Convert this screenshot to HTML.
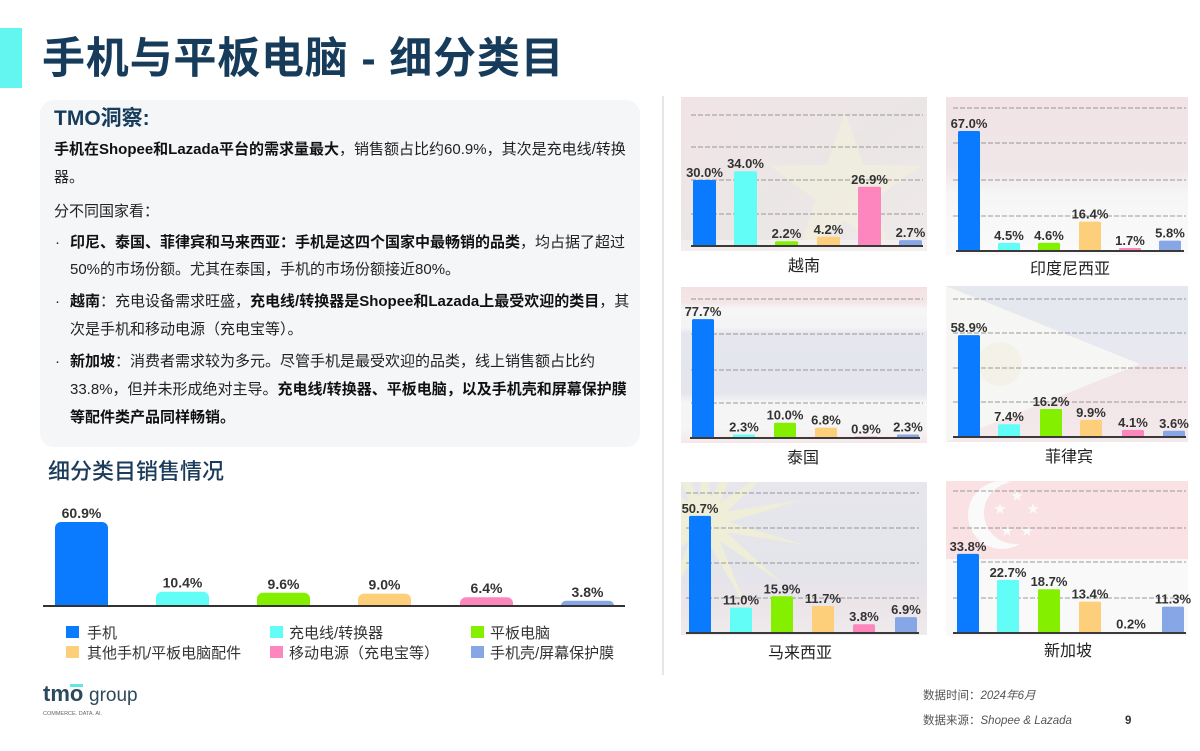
<!DOCTYPE html>
<html>
<head>
<meta charset="utf-8">
<style>
  html,body{margin:0;padding:0;background:#fff;}
  body{width:1200px;height:751px;position:relative;overflow:hidden;
       font-family:"Liberation Sans","Noto Sans CJK SC",sans-serif;color:#1f1f1f;}
  .abs{position:absolute;white-space:nowrap;}
  .accent{left:0;top:28px;width:22px;height:60px;background:#63f6f0;}
  .title{left:42px;top:34px;font-size:43px;line-height:50px;font-weight:bold;color:#173c5b;letter-spacing:0.8px;}
  .box{left:40px;top:100px;width:600px;height:347px;background:#f4f6f8;border-radius:14px;}
  .tmo{left:54px;top:106px;font-size:21px;line-height:26px;font-weight:bold;color:#173c5b;}
  .ln{font-size:15px;line-height:20px;color:#222;}
  .ln b{font-weight:bold;color:#111;}
  .sub{left:48px;top:459px;font-size:22px;line-height:26px;font-weight:500;color:#1b3b5a;}
</style>
</head>
<body>
<div class="abs accent"></div>
<div class="abs title">手机与平板电脑 - 细分类目</div>
<div class="abs box"></div>
<div class="abs tmo">TMO洞察:</div>

<div class="abs ln" style="left:54px;top:140px;"><b>手机在Shopee和Lazada平台的需求量最大</b>，销售额占比约60.9%，其次是充电线/转换</div>
<div class="abs ln" style="left:54px;top:168px;">器。</div>
<div class="abs ln" style="left:54px;top:202px;">分不同国家看：</div>

<div class="abs ln" style="left:55px;top:233px;">·</div>
<div class="abs ln" style="left:70px;top:233px;"><b>印尼、泰国、菲律宾和马来西亚：手机是这四个国家中最畅销的品类</b>，均占据了超过</div>
<div class="abs ln" style="left:70px;top:260px;">50%的市场份额。尤其在泰国，手机的市场份额接近80%。</div>

<div class="abs ln" style="left:55px;top:292px;">·</div>
<div class="abs ln" style="left:70px;top:292px;"><b>越南</b>：充电设备需求旺盛，<b>充电线/转换器是Shopee和Lazada上最受欢迎的类目</b>，其</div>
<div class="abs ln" style="left:70px;top:320px;">次是手机和移动电源（充电宝等）。</div>

<div class="abs ln" style="left:55px;top:352px;">·</div>
<div class="abs ln" style="left:70px;top:352px;"><b>新加坡</b>：消费者需求较为多元。尽管手机是最受欢迎的品类，线上销售额占比约</div>
<div class="abs ln" style="left:70px;top:380px;">33.8%，但并未形成绝对主导。<b>充电线/转换器、平板电脑，以及手机壳和屏幕保护膜</b></div>
<div class="abs ln" style="left:70px;top:408px;"><b>等配件类产品同样畅销。</b></div>

<div class="abs sub">细分类目销售情况</div>

<svg class="abs" style="left:0;top:0;" width="1200" height="751" viewBox="0 0 1200 751" xmlns="http://www.w3.org/2000/svg">
  <defs>
    <clipPath id="leftclip"><rect x="0" y="0" width="660" height="606"/></clipPath>
    <clipPath id="cVN"><rect x="681" y="97" width="246" height="154"/></clipPath>
    <clipPath id="cID"><rect x="946" y="97" width="242" height="158"/></clipPath>
    <clipPath id="cTH"><rect x="681" y="287" width="246" height="156"/></clipPath>
    <clipPath id="cPH"><rect x="946" y="286" width="242" height="156"/></clipPath>
    <clipPath id="cMY"><rect x="681" y="482" width="246" height="153"/></clipPath>
    <clipPath id="cSG"><rect x="946" y="481" width="242" height="155"/></clipPath>
    <linearGradient id="gID" x1="0" y1="0" x2="0" y2="1">
      <stop offset="0" stop-color="#f2e3e6"/>
      <stop offset="0.45" stop-color="#efe6e8"/>
      <stop offset="0.62" stop-color="#f6f6f6"/>
      <stop offset="1" stop-color="#fafafa"/>
    </linearGradient>
    <linearGradient id="gVN" x1="0" y1="0" x2="1" y2="1">
      <stop offset="0" stop-color="#f2e4e6"/>
      <stop offset="0.5" stop-color="#ebe6e6"/>
      <stop offset="1" stop-color="#efeaea"/>
    </linearGradient>
    <linearGradient id="gTH" x1="0" y1="0" x2="0" y2="1">
      <stop offset="0" stop-color="#f4e2e3"/>
      <stop offset="0.1" stop-color="#f4e6e7"/>
      <stop offset="0.14" stop-color="#f6f6f7"/>
      <stop offset="0.26" stop-color="#f4f4f6"/>
      <stop offset="0.3" stop-color="#e5e6ee"/>
      <stop offset="0.68" stop-color="#e4e5ed"/>
      <stop offset="0.74" stop-color="#f5f5f6"/>
      <stop offset="0.9" stop-color="#f6f5f5"/>
      <stop offset="1" stop-color="#f5e8ea"/>
    </linearGradient>
    <linearGradient id="gPH" x1="0" y1="0" x2="0" y2="1">
      <stop offset="0" stop-color="#e6e8f0"/>
      <stop offset="0.48" stop-color="#e7e8f0"/>
      <stop offset="0.52" stop-color="#f2e5e8"/>
      <stop offset="1" stop-color="#f3e8ea"/>
    </linearGradient>
    <linearGradient id="gMY" x1="0" y1="0" x2="0" y2="1">
      <stop offset="0" stop-color="#e6e6ec"/>
      <stop offset="0.6" stop-color="#e4e4eb"/>
      <stop offset="0.8" stop-color="#ebe5e9"/>
      <stop offset="1" stop-color="#efeaec"/>
    </linearGradient>
  </defs>

  <!-- separator -->
  <line x1="663" y1="96" x2="663" y2="675" stroke="#dedede" stroke-width="1.5"/>

  <!-- ============ LEFT CHART ============ -->
  <g clip-path="url(#leftclip)">
    <rect x="55" y="522" width="53" height="95" rx="6" fill="#0a7bff"/>
    <rect x="156" y="591.7" width="53" height="25" rx="6" fill="#62fdf6"/>
    <rect x="257" y="592.8" width="53" height="25" rx="6" fill="#84f000"/>
    <rect x="358" y="593.6" width="53" height="25" rx="6" fill="#fdcf7a"/>
    <rect x="460" y="597.2" width="53" height="25" rx="6" fill="#fc86bd"/>
    <rect x="561" y="600.8" width="53" height="25" rx="5" fill="#87a6e6"/>
  </g>
  <line x1="43" y1="606" x2="625" y2="606" stroke="#333" stroke-width="2"/>
  <g font-family="'Liberation Sans','Noto Sans CJK SC',sans-serif" font-size="14" font-weight="bold" fill="#333" text-anchor="middle">
    <text x="81.5" y="518">60.9%</text>
    <text x="182.5" y="587.7">10.4%</text>
    <text x="283.5" y="588.8">9.6%</text>
    <text x="384.5" y="589.6">9.0%</text>
    <text x="486.5" y="593.2">6.4%</text>
    <text x="587.5" y="596.8">3.8%</text>
  </g>
  <!-- legend -->
  <rect x="66" y="626" width="13" height="12" fill="#0a7bff"/>
  <rect x="270" y="626" width="13" height="12" fill="#62fdf6"/>
  <rect x="471" y="626" width="13" height="12" fill="#84f000"/>
  <rect x="66" y="646" width="13" height="12" fill="#fdcf7a"/>
  <rect x="270" y="646" width="13" height="12" fill="#fc86bd"/>
  <rect x="471" y="646" width="13" height="12" fill="#87a6e6"/>
  <g font-family="'Liberation Sans','Noto Sans CJK SC',sans-serif" font-size="15" fill="#333">
    <text x="87" y="638">手机</text>
    <text x="289" y="638">充电线/转换器</text>
    <text x="490" y="638">平板电脑</text>
    <text x="87" y="658">其他手机/平板电脑配件</text>
    <text x="289" y="658">移动电源（充电宝等）</text>
    <text x="490" y="658">手机壳/屏幕保护膜</text>
  </g>

  <!-- ============ VIETNAM ============ -->
  <g clip-path="url(#cVN)">
    <rect x="681" y="97" width="246" height="154" fill="url(#gVN)"/>
    <polygon points="845,110 863.2,164.9 921.1,165.3 874.5,199.6 892,254.7 845,221 798,254.7 815.5,199.6 768.9,165.3 826.8,164.9" fill="#f3f1da" opacity="0.55"/>
    <rect x="681" y="240" width="246" height="11" fill="#f6f4f4" opacity="0.6"/>
  </g>
  <!-- ============ INDONESIA ============ -->
  <g clip-path="url(#cID)">
    <rect x="946" y="97" width="242" height="158" fill="url(#gID)"/>
  </g>
  <!-- ============ THAILAND ============ -->
  <g clip-path="url(#cTH)">
    <rect x="681" y="287" width="246" height="156" fill="url(#gTH)"/>
  </g>
  <!-- ============ PHILIPPINES ============ -->
  <g clip-path="url(#cPH)">
    <rect x="946" y="286" width="242" height="156" fill="url(#gPH)"/>
    <polygon points="946,286 1140,364 946,442" fill="#f6f6f4"/>
    <circle cx="1000" cy="364" r="22" fill="#f3f1e2" opacity="0.7"/>
  </g>
  <!-- ============ MALAYSIA ============ -->
  <g clip-path="url(#cMY)">
    <rect x="681" y="482" width="246" height="153" fill="url(#gMY)"/>
    <g transform="translate(705,522)" fill="#efeed8">
      <polygon points="0,-100 7,0 -7,0"/>
      <polygon points="0,-100 7,0 -7,0" transform="rotate(25.7)"/>
      <polygon points="0,-100 7,0 -7,0" transform="rotate(51.4)"/>
      <polygon points="0,-100 7,0 -7,0" transform="rotate(77.1)"/>
      <polygon points="0,-100 7,0 -7,0" transform="rotate(102.9)"/>
      <polygon points="0,-100 7,0 -7,0" transform="rotate(128.6)"/>
      <polygon points="0,-100 7,0 -7,0" transform="rotate(154.3)"/>
      <polygon points="0,-100 7,0 -7,0" transform="rotate(180)"/>
      <polygon points="0,-100 7,0 -7,0" transform="rotate(205.7)"/>
      <polygon points="0,-100 7,0 -7,0" transform="rotate(231.4)"/>
      <polygon points="0,-100 7,0 -7,0" transform="rotate(257.1)"/>
      <polygon points="0,-100 7,0 -7,0" transform="rotate(282.9)"/>
      <polygon points="0,-100 7,0 -7,0" transform="rotate(308.6)"/>
      <polygon points="0,-100 7,0 -7,0" transform="rotate(334.3)"/>
      <circle cx="0" cy="0" r="22"/>
    </g>
  </g>
  <!-- ============ SINGAPORE ============ -->
  <g clip-path="url(#cSG)">
    <rect x="946" y="481" width="242" height="155" fill="#f9f9f9"/>
    <rect x="946" y="481" width="242" height="78" fill="#f9e1e4"/>
    <circle cx="1002" cy="515" r="34" fill="#fbfafa"/>
    <circle cx="1015" cy="513" r="31" fill="#f9e1e4"/>
    <g fill="#fbfafa">
      <polygon points="0,-1 0.2245,-0.309 0.951,-0.309 0.363,0.118 0.588,0.809 0,0.382 -0.588,0.809 -0.363,0.118 -0.951,-0.309 -0.2245,-0.309" transform="translate(1017,496) scale(6)"/>
      <polygon points="0,-1 0.2245,-0.309 0.951,-0.309 0.363,0.118 0.588,0.809 0,0.382 -0.588,0.809 -0.363,0.118 -0.951,-0.309 -0.2245,-0.309" transform="translate(1000,509) scale(6)"/>
      <polygon points="0,-1 0.2245,-0.309 0.951,-0.309 0.363,0.118 0.588,0.809 0,0.382 -0.588,0.809 -0.363,0.118 -0.951,-0.309 -0.2245,-0.309" transform="translate(1033,509) scale(6)"/>
      <polygon points="0,-1 0.2245,-0.309 0.951,-0.309 0.363,0.118 0.588,0.809 0,0.382 -0.588,0.809 -0.363,0.118 -0.951,-0.309 -0.2245,-0.309" transform="translate(1007,531) scale(6)"/>
      <polygon points="0,-1 0.2245,-0.309 0.951,-0.309 0.363,0.118 0.588,0.809 0,0.382 -0.588,0.809 -0.363,0.118 -0.951,-0.309 -0.2245,-0.309" transform="translate(1027,531) scale(6)"/>
    </g>
  </g>

  <!-- gridlines -->
  <g stroke="#8a8a8a" stroke-width="1" stroke-dasharray="5 2" opacity="0.85">
    <line x1="691" y1="115" x2="923" y2="115"/><line x1="691" y1="147" x2="923" y2="147"/>
    <line x1="691" y1="180" x2="923" y2="180"/><line x1="691" y1="214" x2="923" y2="214"/>
    <line x1="953" y1="108" x2="1186" y2="108"/><line x1="953" y1="143" x2="1186" y2="143"/>
    <line x1="953" y1="180" x2="1186" y2="180"/><line x1="953" y1="216" x2="1186" y2="216"/>
    <line x1="691" y1="299" x2="923" y2="299"/><line x1="691" y1="334" x2="923" y2="334"/>
    <line x1="691" y1="370" x2="923" y2="370"/><line x1="691" y1="403" x2="923" y2="403"/>
    <line x1="953" y1="299" x2="1186" y2="299"/><line x1="953" y1="333" x2="1186" y2="333"/>
    <line x1="953" y1="368" x2="1186" y2="368"/><line x1="953" y1="402" x2="1186" y2="402"/>
    <line x1="686" y1="493" x2="919" y2="493"/><line x1="686" y1="528" x2="919" y2="528"/>
    <line x1="686" y1="563" x2="919" y2="563"/><line x1="686" y1="598" x2="919" y2="598"/>
    <line x1="953" y1="491" x2="1186" y2="491"/><line x1="953" y1="528" x2="1186" y2="528"/>
    <line x1="953" y1="562" x2="1186" y2="562"/><line x1="953" y1="598" x2="1186" y2="598"/>
  </g>

  <!-- bars: Vietnam -->
  <rect x="693" y="180" width="23" height="66" rx="1.5" fill="#0a7bff"/>
  <rect x="734" y="171.2" width="23" height="74.8" rx="1.5" fill="#62fdf6"/>
  <rect x="775" y="241.2" width="23" height="4.8" rx="1.5" fill="#84f000"/>
  <rect x="817" y="236.8" width="23" height="9.2" rx="1.5" fill="#fdcf7a"/>
  <rect x="858" y="186.8" width="23" height="59.2" rx="1.5" fill="#fc86bd"/>
  <rect x="899" y="240.1" width="23" height="5.9" rx="1.5" fill="#87a6e6"/>
  <!-- Indonesia -->
  <rect x="958" y="131" width="22" height="120" rx="1.5" fill="#0a7bff"/>
  <rect x="998" y="242.9" width="22" height="8.1" rx="1.5" fill="#62fdf6"/>
  <rect x="1038" y="242.8" width="22" height="8.2" rx="1.5" fill="#84f000"/>
  <rect x="1079" y="221.6" width="22" height="29.4" rx="1.5" fill="#fdcf7a"/>
  <rect x="1119" y="248" width="22" height="3" rx="1" fill="#fc86bd"/>
  <rect x="1159" y="240.6" width="22" height="10.4" rx="1.5" fill="#87a6e6"/>
  <!-- Thailand -->
  <rect x="692" y="319.1" width="22" height="118.9" rx="1.5" fill="#0a7bff"/>
  <rect x="733" y="434.5" width="22" height="3.5" rx="1" fill="#62fdf6"/>
  <rect x="774" y="422.7" width="22" height="15.3" rx="1.5" fill="#84f000"/>
  <rect x="815" y="427.6" width="22" height="10.4" rx="1.5" fill="#fdcf7a"/>
  <rect x="855" y="436.6" width="22" height="1.4" fill="#fc86bd"/>
  <rect x="897" y="434.5" width="22" height="3.5" rx="1" fill="#87a6e6"/>
  <!-- Philippines -->
  <rect x="958" y="335.1" width="22" height="101.9" rx="1.5" fill="#0a7bff"/>
  <rect x="998" y="424.2" width="22" height="12.8" rx="1.5" fill="#62fdf6"/>
  <rect x="1040" y="409" width="22" height="28" rx="1.5" fill="#84f000"/>
  <rect x="1080" y="419.9" width="22" height="17.1" rx="1.5" fill="#fdcf7a"/>
  <rect x="1122" y="429.9" width="22" height="7.1" rx="1.5" fill="#fc86bd"/>
  <rect x="1163" y="430.8" width="22" height="6.2" rx="1.5" fill="#87a6e6"/>
  <!-- Malaysia -->
  <rect x="689" y="515.9" width="22" height="117.1" rx="1.5" fill="#0a7bff"/>
  <rect x="730" y="607.6" width="22" height="25.4" rx="1.5" fill="#62fdf6"/>
  <rect x="771" y="596.3" width="22" height="36.7" rx="1.5" fill="#84f000"/>
  <rect x="812" y="606" width="22" height="27" rx="1.5" fill="#fdcf7a"/>
  <rect x="853" y="624.2" width="22" height="8.8" rx="1.5" fill="#fc86bd"/>
  <rect x="895" y="617.1" width="22" height="15.9" rx="1.5" fill="#87a6e6"/>
  <!-- Singapore -->
  <rect x="957" y="553.9" width="22" height="79.1" rx="1.5" fill="#0a7bff"/>
  <rect x="997" y="579.9" width="22" height="53.1" rx="1.5" fill="#62fdf6"/>
  <rect x="1038" y="589.2" width="22" height="43.8" rx="1.5" fill="#84f000"/>
  <rect x="1079" y="601.6" width="22" height="31.4" rx="1.5" fill="#fdcf7a"/>
  <rect x="1120" y="632.5" width="22" height="0.5" fill="#fc86bd"/>
  <rect x="1162" y="606.6" width="22" height="26.4" rx="1.5" fill="#87a6e6"/>

  <!-- baselines -->
  <g stroke="#3a3a3a" stroke-width="2">
    <line x1="691" y1="246" x2="923" y2="246"/>
    <line x1="956" y1="251" x2="1184" y2="251"/>
    <line x1="690" y1="438" x2="920" y2="438"/>
    <line x1="953" y1="437" x2="1186" y2="437"/>
    <line x1="686" y1="633" x2="919" y2="633"/>
    <line x1="953" y1="633" x2="1186" y2="633"/>
  </g>

  <!-- value labels -->
  <g font-family="'Liberation Sans','Noto Sans CJK SC',sans-serif" font-size="13" font-weight="bold" fill="#333" text-anchor="middle">
    <text x="704.5" y="177">30.0%</text>
    <text x="745.5" y="168.2">34.0%</text>
    <text x="786.5" y="238.2">2.2%</text>
    <text x="828.5" y="233.8">4.2%</text>
    <text x="869.5" y="183.8">26.9%</text>
    <text x="910.5" y="237.1">2.7%</text>

    <text x="969" y="128">67.0%</text>
    <text x="1009" y="239.9">4.5%</text>
    <text x="1049" y="239.8">4.6%</text>
    <text x="1090" y="218.6">16.4%</text>
    <text x="1130" y="245">1.7%</text>
    <text x="1170" y="237.6">5.8%</text>

    <text x="703" y="316.1">77.7%</text>
    <text x="744" y="431.5">2.3%</text>
    <text x="785" y="419.7">10.0%</text>
    <text x="826" y="424.6">6.8%</text>
    <text x="866" y="433.6">0.9%</text>
    <text x="908" y="431.5">2.3%</text>

    <text x="969" y="332.1">58.9%</text>
    <text x="1009" y="421.2">7.4%</text>
    <text x="1051" y="406">16.2%</text>
    <text x="1091" y="416.9">9.9%</text>
    <text x="1133" y="426.9">4.1%</text>
    <text x="1174" y="427.8">3.6%</text>

    <text x="700" y="512.9">50.7%</text>
    <text x="741" y="604.6">11.0%</text>
    <text x="782" y="593.3">15.9%</text>
    <text x="823" y="603">11.7%</text>
    <text x="864" y="621.2">3.8%</text>
    <text x="906" y="614.1">6.9%</text>

    <text x="968" y="550.9">33.8%</text>
    <text x="1008" y="576.9">22.7%</text>
    <text x="1049" y="586.2">18.7%</text>
    <text x="1090" y="598.6">13.4%</text>
    <text x="1131" y="628.5">0.2%</text>
    <text x="1173" y="603.6">11.3%</text>
  </g>

  <!-- panel names -->
  <g font-family="'Liberation Sans','Noto Sans CJK SC',sans-serif" font-size="16" fill="#222" text-anchor="middle">
    <text x="804" y="271">越南</text>
    <text x="1070" y="274">印度尼西亚</text>
    <text x="803" y="463">泰国</text>
    <text x="1069" y="462">菲律宾</text>
    <text x="800" y="658">马来西亚</text>
    <text x="1068" y="656">新加坡</text>
  </g>

  <!-- logo -->
  <text x="43" y="701" font-family="'Liberation Sans',sans-serif" font-size="22" font-weight="bold" fill="#2c4a5c">tmo</text>
  <rect x="70" y="684" width="13" height="3" fill="#62e6e0"/>
  <text x="89" y="701" font-family="'Liberation Sans',sans-serif" font-size="19" fill="#2c4a5c">group</text>
  <text x="43" y="715" font-family="'Liberation Sans',sans-serif" font-size="5.5" fill="#666">COMMERCE. DATA. AI.</text>

  <!-- footer -->
  <g font-family="'Liberation Sans','Noto Sans CJK SC',sans-serif" font-size="11.5" fill="#555">
    <text x="923" y="699">数据时间：<tspan font-style="italic">2024年6月</tspan></text>
    <text x="923" y="724">数据来源：<tspan font-style="italic">Shopee &amp; Lazada</tspan></text>
    <text x="1125" y="724" fill="#333" font-weight="bold">9</text>
  </g>
</svg>
</body>
</html>
